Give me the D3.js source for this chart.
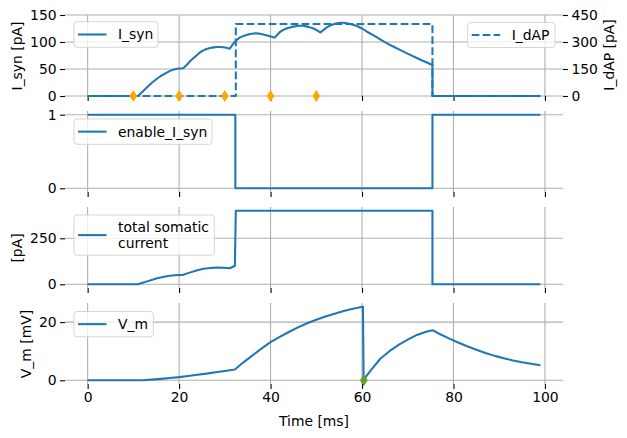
<!DOCTYPE html>
<html>
<head>
<meta charset="utf-8">
<script src="https://cdn.jsdelivr.net/npm/d3@7"></script>
<style>
	body { margin: 0; background: #fff; }
	svg text { font-family: "DejaVu Sans", sans-serif; font-size: 13.9px; fill: #000; }
</style>
</head>
<body>
<svg id="chart" width="627" height="438"></svg>
<script>
// time axis
var timeTicks = [0, 20, 40, 60, 80, 100];
var synSpikeTimes = [10, 20, 30, 40, 50];
var somaSpikeTimes = [60.4];

// I_syn [pA]
var synT = [0, 11, 12, 13, 14, 15, 16, 17, 18, 19, 20, 20.9, 21.6, 22.3, 23.1, 24, 24.6, 25.3, 26, 26.8, 27.5, 28.2, 28.9, 29.7, 30.4, 31.1, 31.6, 32.2, 32.8, 33.3, 34.4, 35.5, 36.3, 37, 37.7, 38.4, 39.5, 40.6, 40.9, 41.5, 42.1, 42.8, 43.6, 44.7, 45.8, 46.5, 47.2, 48.3, 49.4, 50.2, 50.9, 51.6, 52.3, 53, 53.8, 54.5, 55.3, 56, 56.7, 57.8, 58.9, 60, 61.1, 63, 64.8, 66.6, 68.4, 70.3, 72.1, 73.8, 75.4, 75.4, 99];
var synVal = [0, 0, 8, 16, 24, 31, 37, 42, 46.5, 49.5, 51, 51.5, 57, 63.5, 70, 76.5, 81, 84.5, 87, 89, 90, 90.6, 90.7, 90.3, 89.5, 87.6, 94, 100.6, 105, 108.6, 112, 114.8, 115.8, 116, 115.4, 114, 111.5, 108.6, 108.3, 113.5, 119, 122.5, 125.5, 128, 129.6, 130.2, 130, 128, 125, 121.5, 117.5, 122.5, 127, 130.5, 133, 134.8, 135.7, 135.6, 134.5, 132.5, 129.6, 125, 119, 110, 100.6, 92.5, 85, 77, 69.8, 63.5, 57.4, 0, 0];

// I_dAP [pA]
var dapT = [0, 32.4, 32.4, 75.4, 75.4, 99];
var dapVal = [0, 0, 400, 400, 0, 0];

// enable_I_syn
var enableT = [0, 32.3, 32.3, 75.4, 75.4, 99];
var enableVal = [1, 1, 0, 0, 1, 1];

// total somatic current [pA]
var totalT = [0, 11, 12, 13, 14, 15, 16, 17, 18, 19, 20, 20.9, 22.3, 24, 25.3, 26.8, 28.2, 29.7, 31.1, 32.2, 32.4, 75.4, 75.4, 99];
var totalVal = [0, 0, 8, 16, 24, 31, 37, 42, 46.5, 49.5, 51, 51.5, 63.5, 76.5, 84.5, 89, 90.6, 90.3, 87.6, 100.6, 400, 400, 0, 0];

// V_m [mV]
var vmT = [0, 12, 14, 16, 18, 20, 22, 24, 26, 28, 30, 32.2, 34, 36, 38, 40, 42, 44, 46, 48, 50, 52, 54, 56, 58, 60.2, 60.35, 62, 64, 66, 68, 70, 72, 74, 75.5, 77, 79, 81, 83, 85, 87, 89, 91, 93, 95, 97, 99];
var vmVal = [0, 0.05, 0.25, 0.5, 0.8, 1.1, 1.5, 1.9, 2.3, 2.8, 3.2, 3.7, 6.1, 8.5, 10.9, 13.1, 14.9, 16.6, 18.2, 19.6, 20.8, 21.9, 22.9, 23.8, 24.6, 25.3, 0.2, 3.6, 7.4, 10.0, 12.2, 14.0, 15.6, 16.7, 17.2, 15.9, 14.4, 13.0, 11.7, 10.5, 9.4, 8.4, 7.6, 6.8, 6.2, 5.7, 5.2];

var blue = "#1f77b4", gridCol = "#b0b0b0";
var left = 65, right = 563, panelH = 81;
var panelTops = [15, 111, 207, 303];
var lw = 2.08, dash = "7.7,3.3";

var svg = d3.select("#chart");
var x = d3.scaleLinear().domain([-4.95, 103.95]).range([left, right]);

function pairs(t, v){
	return t.map(function(d, i){ return [d, v[i]]; });
}

//strip the d3 axis down to matplotlib look (no spine)
function styleAxis(ax){
	ax.select(".domain").remove();
	ax.selectAll("line").attr("stroke-width", 1.1);
	ax.selectAll("text").attr("font-size", null).attr("font-family", null);
}

//one panel: grid, y axis, returns y scale
function makePanel(i, domain, ticks){
	var top = panelTops[i];
	var y = d3.scaleLinear().domain(domain).range([top + panelH, top]);
	var g = svg.append("g");
	// grid
	g.selectAll(".vg").data(timeTicks).enter().append("line")
		.attr("x1", function(d){ return x(d); }).attr("x2", function(d){ return x(d); })
		.attr("y1", top).attr("y2", top + panelH)
		.attr("stroke", gridCol).attr("stroke-width", 1.1);
	g.selectAll(".hg").data(ticks).enter().append("line")
		.attr("x1", left).attr("x2", right)
		.attr("y1", function(d){ return y(d); }).attr("y2", function(d){ return y(d); })
		.attr("stroke", gridCol).attr("stroke-width", 1.1);
	var ax = svg.append("g").attr("transform", "translate(" + left + ",0)")
		.call(d3.axisLeft(y).tickValues(ticks).tickSize(4.9).tickPadding(3.5).tickFormat(d3.format("d")));
	styleAxis(ax);
	// x axis ticks, labels only on the bottom panel
	var bx = svg.append("g").attr("transform", "translate(0," + (top + panelH) + ")")
		.call(d3.axisBottom(x).tickValues(timeTicks).tickSize(4.9).tickPadding(3.5)
			.tickFormat(i == 3 ? d3.format("d") : function(){ return ""; }));
	styleAxis(bx);
	return y;
}

function drawLine(y, t, v, dashed){
	var line = d3.line().x(function(d){ return x(d[0]); }).y(function(d){ return y(d[1]); });
	var p = svg.append("path").datum(pairs(t, v))
		.attr("d", line).attr("fill", "none")
		.attr("stroke", blue).attr("stroke-width", lw)
		.attr("stroke-linejoin", "round");
	if(dashed) p.attr("stroke-dasharray", dash);
	return p;
}

function legend(x0, y0, w, h, labels, dashed){
	var g = svg.append("g");
	g.append("rect").attr("x", x0).attr("y", y0).attr("width", w).attr("height", h)
		.attr("rx", 3).attr("fill", "#fff").attr("fill-opacity", 0.8)
		.attr("stroke", "#cccccc").attr("stroke-opacity", 0.8);
	var cy = y0 + h / 2;
	var l = g.append("line").attr("x1", x0 + 4).attr("x2", x0 + 32.5)
		.attr("y1", cy).attr("y2", cy)
		.attr("stroke", blue).attr("stroke-width", lw);
	if(dashed) l.attr("stroke-dasharray", dash);
	var n = labels.length;
	labels.forEach(function(s, k){
		g.append("text").attr("x", x0 + 44).attr("y", cy + (k - (n - 1) / 2) * 16)
			.attr("dy", "0.35em").text(s);
	});
}

function diamonds(y, times, col){
	svg.selectAll(null).data(times).enter().append("path")
		.attr("d", "M0,-6L3.8,0L0,6L-3.8,0Z")
		.attr("transform", function(d){ return "translate(" + x(d) + "," + y(0) + ")"; })
		.attr("fill", col);
}

// panel 1: I_syn and I_dAP (twin axis)
var y1 = makePanel(0, [0, 150], [0, 50, 100, 150]);
var y1r = d3.scaleLinear().domain([0, 450]).range([panelTops[0] + panelH, panelTops[0]]);
var rax = svg.append("g").attr("transform", "translate(" + right + ",0)")
	.call(d3.axisRight(y1r).tickValues([0, 150, 300, 450]).tickSize(4.9).tickPadding(3.5));
styleAxis(rax);
drawLine(y1, synT, synVal, false);
legend(74, 21.7, 84, 25.6, ["I_syn"], false);
drawLine(y1r, dapT, dapVal, true);
diamonds(y1, synSpikeTimes, "orange");
legend(467.7, 22.5, 87.3, 25, ["I_dAP"], true);

// panel 2: enable_I_syn
var y2 = makePanel(1, [-0.05, 1.05], [0, 1]);
drawLine(y2, enableT, enableVal, false);
legend(74, 119, 138, 25.3, ["enable_I_syn"], false);

// panel 3: total somatic current
var y3 = makePanel(2, [-20, 420], [0, 250]);
drawLine(y3, totalT, totalVal, false);
legend(74, 215, 140.3, 40.2, ["total somatic", "current"], false);

// panel 4: V_m
var y4 = makePanel(3, [-1.265, 26.565], [0, 20]);
drawLine(y4, vmT, vmVal, false);
diamonds(y4, somaSpikeTimes, "#6b9a2f");
legend(74, 311.5, 79.3, 25.3, ["V_m"], false);

// axis labels
function ylabel(px, py, s){
	svg.append("text").attr("transform", "translate(" + px + "," + py + ") rotate(-90)")
		.attr("text-anchor", "middle").text(s);
}
ylabel(22, 56, "I_syn [pA]");
ylabel(614, 55, "I_dAP [pA]");
ylabel(22, 248, "[pA]");
ylabel(31, 344, "V_m [mV]");
svg.append("text").attr("x", (left + right) / 2).attr("y", 426)
	.attr("text-anchor", "middle").text("Time [ms]");
</script>
</body>
</html>
